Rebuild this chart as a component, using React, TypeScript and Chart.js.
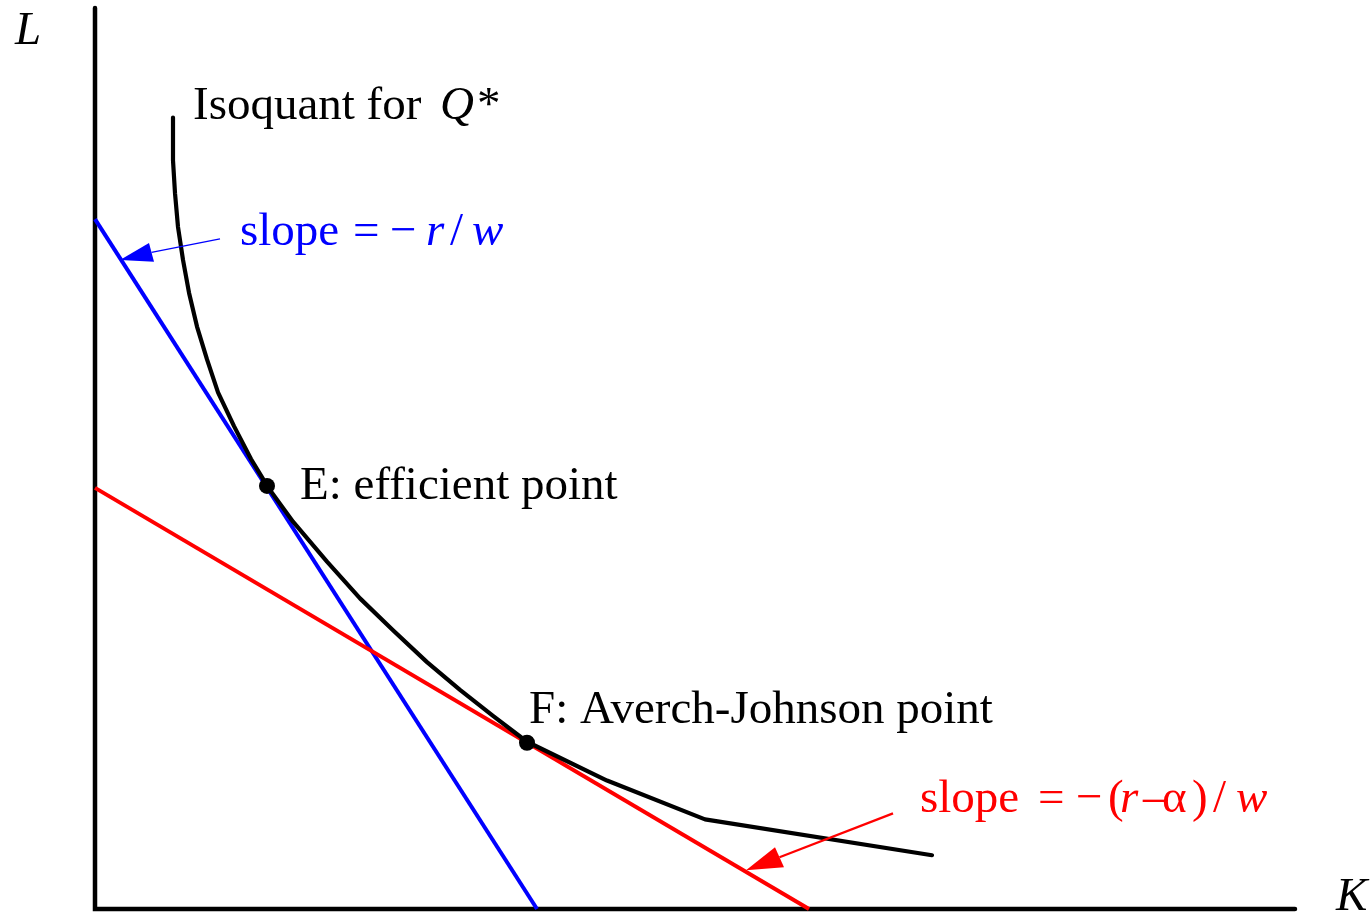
import React, { useEffect, useRef } from "react";
import { Chart, registerables } from "chart.js";
Chart.register(...registerables);

// Isoquant for Q* (K = capital, L = labour)
const isoK = [0.78, 0.78, 0.8, 0.83, 0.88, 0.94, 1.02, 1.12, 1.23, 1.39, 1.56, 1.68, 1.72, 1.98, 2.32, 2.65, 2.98, 3.32, 3.65, 3.98, 4.32, 5.12, 6.1, 8.37];
const isoL = [7.95, 7.52, 7.19, 6.85, 6.52, 6.19, 5.85, 5.52, 5.19, 4.85, 4.52, 4.32, 4.25, 3.89, 3.49, 3.12, 2.8, 2.48, 2.2, 1.94, 1.68, 1.29, 0.9, 0.54];

// Isocost lines
const blueK = [0, 4.42];
const blueL = [6.93, 0];
const redK = [0, 7.14];
const redL = [4.23, 0];

// Axes
const axisK = [0, 0, 12];
const axisL = [9.05, 0, 0];

// Points E and F
const pointK = [1.72, 4.32];
const pointL = [4.25, 1.67];

// Arrows
const blueArrowFrom = [1.25, 6.73];
const blueArrowBase = [0.565, 6.595];
const blueArrowTip = [0.25, 6.52];
const blueArrowC1 = [0.54, 6.69];
const blueArrowC2 = [0.59, 6.5];

const redArrowFrom = [7.98, 0.96];
const redArrowBase = [6.845, 0.52];
const redArrowTip = [6.51, 0.39];
const redArrowC1 = [6.8, 0.62];
const redArrowC2 = [6.89, 0.42];

// Text labels: segments [text, italic, pixel offset]
type Seg = [string, boolean, number];
const labelIso: Seg[] = [["Isoquant for ", false, 0], ["Q", true, 247], ["*", false, 284]];
const labelE: Seg[] = [["E: efficient point", false, 0]];
const labelF: Seg[] = [["F: Averch-Johnson point", false, 0]];
const labelBlue: Seg[] = [["slope", false, 0], ["=", false, 113], ["\u2212", false, 150], ["r", true, 186], ["/", false, 210], ["w", true, 232]];
const labelRed: Seg[] = [["slope", false, 0], ["=", false, 118], ["\u2212", false, 156], ["(", false, 188], ["r", true, 200], ["\u2013", false, 223], ["\u03b1", false, 242], [")", false, 272], ["/", false, 293], ["w", true, 316]];
const labelLAxis: Seg[] = [["L", true, 0]];
const labelKAxis: Seg[] = [["K", true, 0]];

const labels: { k: number; l: number; segs: Seg[]; color: string }[] = [
  { k: 0.98, l: 7.94, segs: labelIso, color: "#000000" },
  { k: 2.05, l: 4.12, segs: labelE, color: "#000000" },
  { k: 4.34, l: 1.87, segs: labelF, color: "#000000" },
  { k: 1.45, l: 6.67, segs: labelBlue, color: "#0000ff" },
  { k: 8.25, l: 0.97, segs: labelRed, color: "#ff0000" },
  { k: -0.8, l: 8.69, segs: labelLAxis, color: "#000000" },
  { k: 12.41, l: -0.01, segs: labelKAxis, color: "#000000" },
];

const zip = (a: number[], b: number[]) => a.map((v, i) => ({ x: v, y: b[i] }));

const annotPlugin = {
  id: "annot",
  afterDatasetsDraw(chart: any) {
    const { ctx, scales } = chart;
    const X = (v: number) => scales.x.getPixelForValue(v);
    const Y = (v: number) => scales.y.getPixelForValue(v);
    const arrows = [
      { from: blueArrowFrom, base: blueArrowBase, tip: blueArrowTip, c1: blueArrowC1, c2: blueArrowC2, color: "#0000ff", w: 1.3 },
      { from: redArrowFrom, base: redArrowBase, tip: redArrowTip, c1: redArrowC1, c2: redArrowC2, color: "#ff0000", w: 2.3 },
    ];
    ctx.save();
    for (const a of arrows) {
      ctx.strokeStyle = a.color;
      ctx.fillStyle = a.color;
      ctx.lineWidth = a.w;
      ctx.beginPath();
      ctx.moveTo(X(a.from[0]), Y(a.from[1]));
      ctx.lineTo(X(a.base[0]), Y(a.base[1]));
      ctx.stroke();
      ctx.beginPath();
      ctx.moveTo(X(a.tip[0]), Y(a.tip[1]));
      ctx.lineTo(X(a.c1[0]), Y(a.c1[1]));
      ctx.lineTo(X(a.c2[0]), Y(a.c2[1]));
      ctx.closePath();
      ctx.fill();
    }
    ctx.textBaseline = "alphabetic";
    ctx.textAlign = "left";
    for (const lb of labels) {
      ctx.fillStyle = lb.color;
      const x0 = X(lb.k);
      const y0 = Y(lb.l);
      for (const [t, it, off] of lb.segs) {
        ctx.font = `${it ? "italic " : ""}47px "Liberation Serif"`;
        ctx.fillText(t, x0 + off, y0);
      }
    }
    ctx.restore();
  },
};

export default function App() {
  const ref = useRef<HTMLCanvasElement>(null);
  useEffect(() => {
    if (!ref.current) return;
    const chart = new Chart(ref.current, {
      type: "scatter",
      data: {
        datasets: [
          {
            label: "points",
            data: zip(pointK, pointL),
            showLine: false,
            pointRadius: 8,
            pointBackgroundColor: "#000000",
            pointBorderWidth: 0,
            order: 0,
            clip: false,
          } as any,
          {
            label: "isoquant",
            data: zip(isoK, isoL),
            showLine: true,
            borderColor: "#000000",
            borderWidth: 4.2,
            pointRadius: 0,
            tension: 0,
            borderCapStyle: "round",
            borderJoinStyle: "round",
            order: 1,
            clip: false,
          },
          {
            label: "red",
            data: zip(redK, redL),
            showLine: true,
            borderColor: "#ff0000",
            borderWidth: 4,
            pointRadius: 0,
            order: 2,
            clip: false,
          },
          {
            label: "blue",
            data: zip(blueK, blueL),
            showLine: true,
            borderColor: "#0000ff",
            borderWidth: 4,
            pointRadius: 0,
            order: 3,
            clip: false,
          },
          {
            label: "axes",
            data: zip(axisK, axisL),
            showLine: true,
            borderColor: "#000000",
            borderWidth: 4.5,
            pointRadius: 0,
            borderCapStyle: "round",
            borderJoinStyle: "miter",
            order: 4,
            clip: false,
          },
        ],
      },
      options: {
        animation: false,
        responsive: false,
        maintainAspectRatio: false,
        layout: { padding: { left: 95, right: 77, top: 7, bottom: 5 } },
        scales: {
          x: { type: "linear", min: 0, max: 12, display: false },
          y: { type: "linear", min: 0, max: 9.05, display: false },
        },
        plugins: { legend: { display: false }, tooltip: { enabled: false } },
        events: [],
      },
      plugins: [annotPlugin],
    });
    return () => chart.destroy();
  }, []);
  return (
    <div style={{ position: "absolute", left: 0, top: 0, width: 1372, height: 917, background: "#ffffff" }}>
      <canvas ref={ref} width={1372} height={917} style={{ display: "block", width: 1372, height: 917 }} />
    </div>
  );
}
